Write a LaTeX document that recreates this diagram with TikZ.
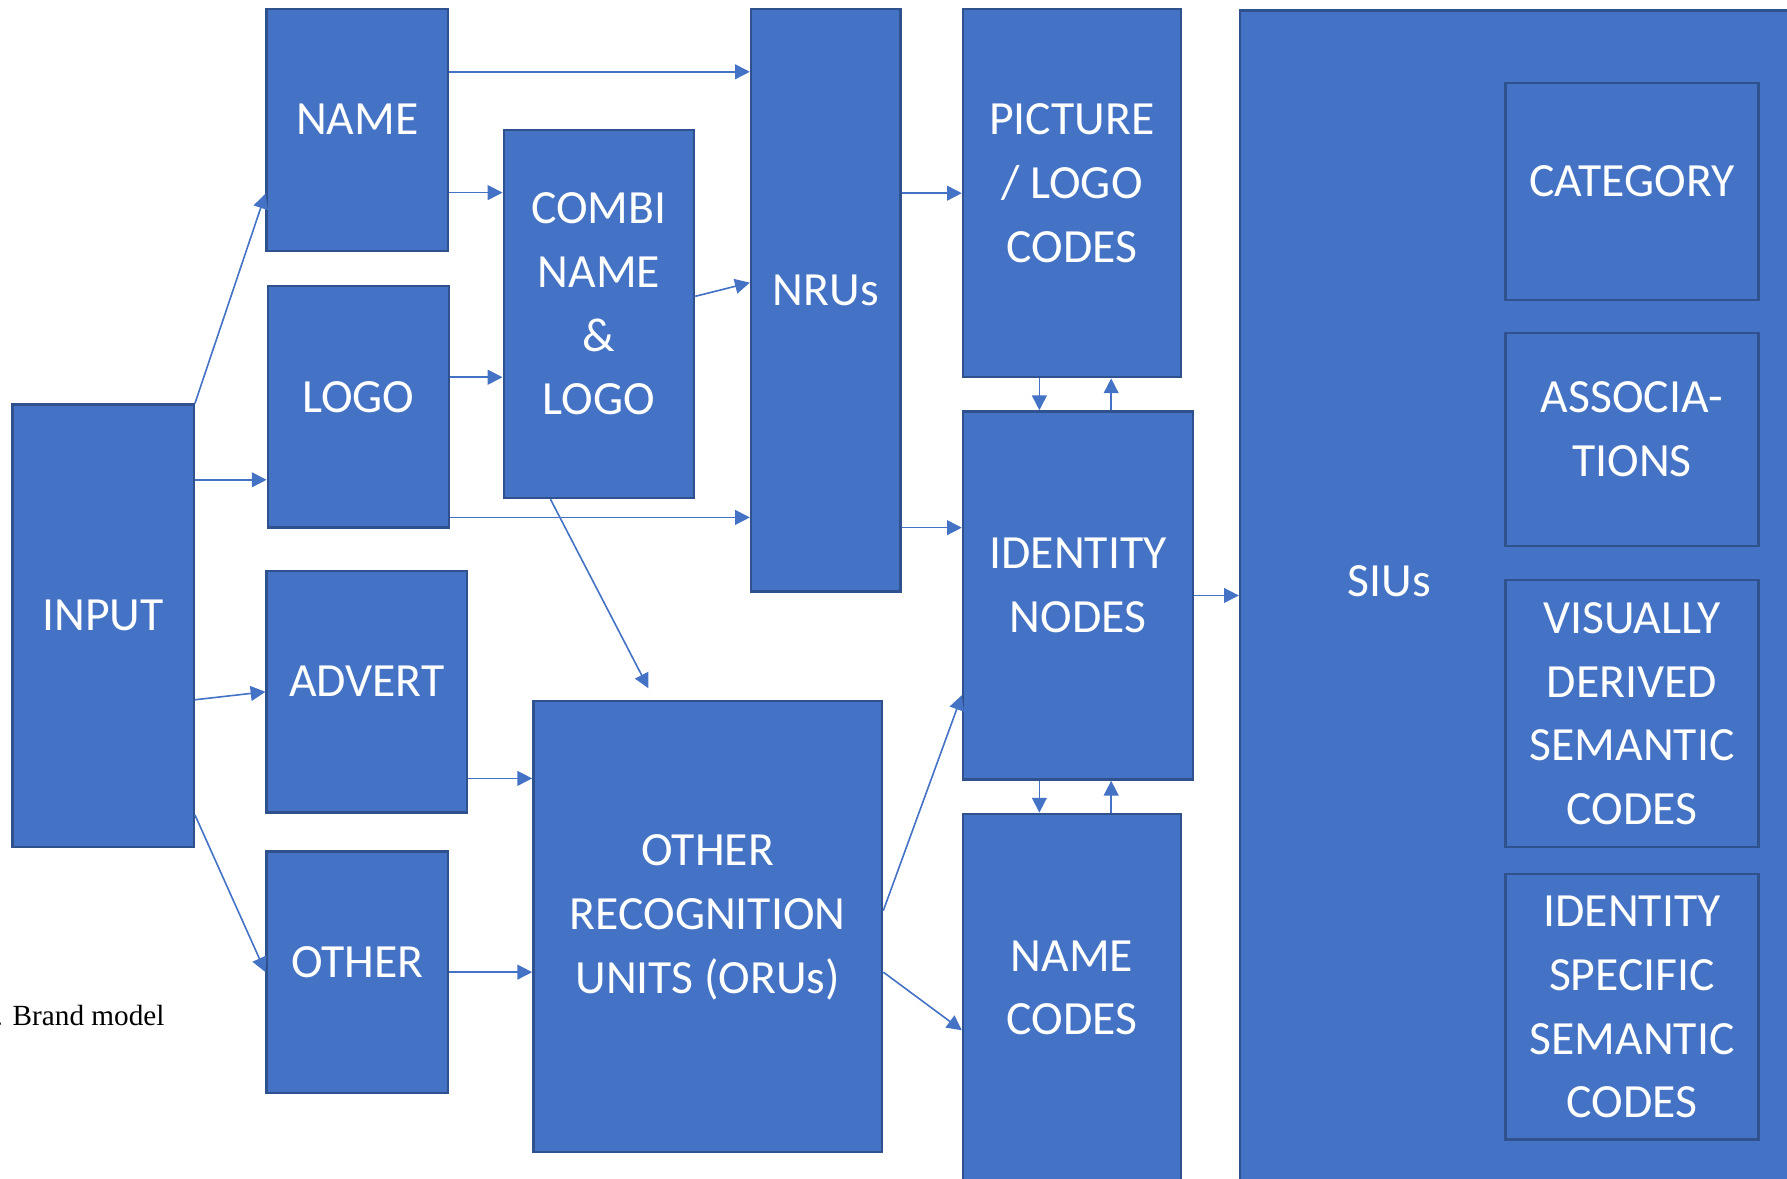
\documentclass[tikz,border=0pt]{standalone}
\usepackage{fontspec}
\setmainfont{Carlito}
\newfontfamily\capfont{Liberation Serif}
\usepackage{tikz}
\usetikzlibrary{arrows.meta,calc}
\definecolor{bfill}{HTML}{4472C4}
\definecolor{bline}{HTML}{2F528F}
\tikzset{
  font=\fontsize{11.9}{15.9}\selectfont,
  >={Triangle[length=1.3mm,width=1.3mm]},
  unit/.style = {draw=bline, fill=bfill, line width=0.6pt, align=center,
                 text=white, inner sep=0pt, text depth=1.8mm},
  sub/.style  = {unit, minimum width=22.2mm},
  flow/.style = {->, draw=bfill, line width=0.4pt},
  note/.style = {font=\capfont\fontsize{7.3}{9}\selectfont, text=black,
                 inner sep=0pt},
}

\begin{document}
\begin{tikzpicture}[x=1mm, y=1mm]
\useasboundingbox (0,0) rectangle (156.8,-103.4);

% ---------------- input side ------------------------------------------
\node[unit, minimum width=15.9mm, minimum height=38.8mm] at (9.05,-54.9) (inp) {INPUT};
\node[unit, minimum width=15.9mm, minimum height=21.2mm] at (31.35,-11.4) (nm) {NAME};
\node[unit, minimum width=15.9mm, minimum height=21.2mm] at (31.45,-35.7) (lg) {LOGO};
\node[unit, minimum width=17.6mm, minimum height=21.2mm] at (32.2,-60.7) (adv) {ADVERT};
\node[unit, minimum width=15.9mm, minimum height=21.2mm] at (31.35,-85.3) (oth) {OTHER};
\node[unit, minimum width=16.7mm, minimum height=32.3mm] at (52.55,-27.55) (cmb)
  {COMBI\\NAME\\\&\\LOGO};

% ---------------- recognition units -----------------------------------
\node[unit, minimum width=13.1mm, minimum height=51.1mm] at (72.45,-26.35) (nru) {NRUs};
\node[unit, minimum width=30.6mm, minimum height=39.6mm, text depth=2.2mm] at (62.1,-81.3) (oru)
  {OTHER\\RECOGNITION\\UNITS (ORUs)};

% ---------------- codes and identity nodes ----------------------------
\node[unit, minimum width=19.1mm, minimum height=32.3mm] at (94.05,-16.95) (pic)
  {PICTURE\\/ LOGO\\CODES};
\node[unit, minimum width=20.2mm, minimum height=32.3mm] at (94.6,-52.25) (idn)
  {IDENTITY\\NODES};
\node[unit, minimum width=19.1mm, minimum height=32.3mm, anchor=north] at (94.05,-71.3) (nmc)
  {NAME\\CODES};

% ---------------- semantic information units --------------------------
\node[unit, minimum width=52mm, minimum height=105mm, anchor=north west] at (108.7,-0.8) (siu) {};
\node[text=white, inner sep=0pt] at (121.9,-51.0) (siul) {SIUs};
\node[sub, minimum height=19.0mm] at (143.2,-16.8) (cat) {CATEGORY};
\node[sub, minimum height=18.7mm] at (143.2,-38.55) (asc) {ASSOCIA-\\TIONS};
\node[sub, minimum height=23.4mm, text depth=-0.9mm] at (143.2,-62.6) (vds)
  {VISUALLY\\DERIVED\\SEMANTIC\\CODES};
\node[sub, minimum height=23.3mm, text depth=-0.9mm] at (143.2,-88.35) (iss)
  {IDENTITY\\SPECIFIC\\SEMANTIC\\CODES};

\node[note, anchor=base west] at (-0.45,-90.0) (fig) {. Brand model};

% ---------------- connectors ------------------------------------------
\draw[flow] (inp.north east) -- (nm.west |- 0,-17.0);
\draw[flow] (inp.east |- 0,-42.1) -- (lg.west |- 0,-42.1);
\draw[flow] (inp.east |- 0,-61.4) -- (adv.west);
\draw[flow] (inp.east |- 0,-71.5) -- (oth.west);

\draw[flow] (nm.east |- 0,-6.3) -- (nru.west |- 0,-6.3);
\draw[flow] (nm.east |- 0,-16.9) -- (cmb.west |- 0,-16.9);
\draw[flow] (lg.east |- 0,-33.1) -- (cmb.west |- 0,-33.1);
\draw[flow] (lg.east |- 0,-45.4) -- (nru.west |- 0,-45.4);
\draw[flow] (cmb.east |- 0,-26.0) -- (nru.west |- 0,-24.8);
\draw[flow] (cmb.south -| 48.3,0) -- ([shift={(-5.2,1.0)}]oru.north);

\draw[flow] (adv.east |- 0,-68.3) -- (oru.west |- 0,-68.3);
\draw[flow] (oth.east) -- (oru.west |- oth.east);

\draw[flow] (nru.east |- pic.west) -- (pic.west);
\draw[flow] (nru.east |- 0,-46.3) -- (idn.west |- 0,-46.3);

\draw[flow] (pic.south -| 91.2,0) -- (idn.north -| 91.2,0);
\draw[flow] (idn.north -| 97.5,0) -- (pic.south -| 97.5,0);
\draw[flow] (idn.south -| 91.2,0) -- (nmc.north -| 91.2,0);
\draw[flow] (nmc.north -| 97.5,0) -- (idn.south -| 97.5,0);

\draw[flow] (oru.east |- 0,-79.9) -- (idn.west |- 0,-61.0);
\draw[flow] (oru.east |- 0,-85.3) -- (nmc.west |- 0,-90.4);

\draw[flow] (idn.east) -- (idn.east -| siu.west);

\end{tikzpicture}
\end{document}
